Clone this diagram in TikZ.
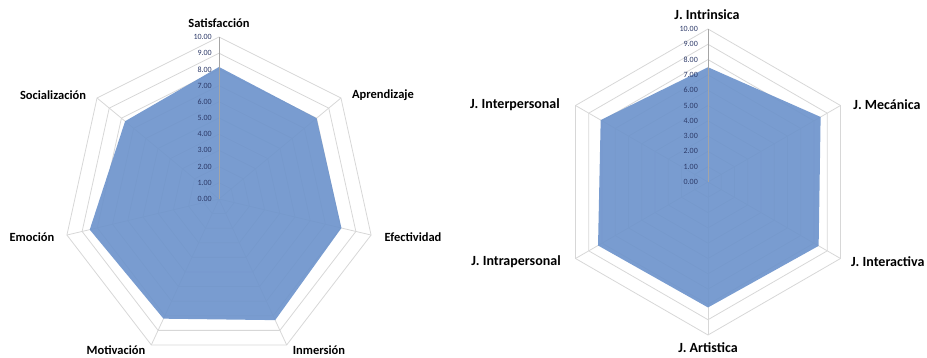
\documentclass[tikz,border=0pt]{standalone}
\usepackage{fontspec}
\setmainfont{Carlito}
\definecolor{gridgray}{RGB}{215,215,215}
\definecolor{axisgray}{RGB}{165,165,165}
\definecolor{radarblue}{RGB}{110,148,204}
\definecolor{ticktext}{RGB}{45,58,105}
\begin{document}
\begin{tikzpicture}[x=1pt,y=1pt,
  ring/.style={draw=gridgray, line width=0.8pt},
  spoke/.style={draw=gridgray, line width=0.8pt},
  valaxis/.style={draw=axisgray, line width=0.6pt},
  datafill/.style={fill=radarblue, fill opacity=0.92},
  catleft/.style={font=\bfseries\fontsize{12.5}{12.5}\selectfont, inner sep=0pt},
  catright/.style={font=\bfseries\fontsize{14}{14}\selectfont, inner sep=0pt},
  ticklabel/.style={font=\fontsize{8}{8}\selectfont, text=ticktext, anchor=east, inner sep=0pt}]
\useasboundingbox (0,0) rectangle (927,-358);

% ---------- heptagonal chart ----------
\begin{scope}[shift={(219,-199)}, x=15.6pt, y=16.2pt]
  \coordinate (hc) at (0,0);
  \foreach \k in {0,...,6} \coordinate (hv\k) at ({90-\k*360/7}:10);
  \foreach \r in {1,...,10}
    \draw[ring] (90:\r) \foreach \k in {1,...,6} { -- ({90-\k*360/7}:\r) } -- cycle;
  \foreach \k in {0,...,6} \draw[spoke] (hc) -- (hv\k);
  \fill[datafill] (90:8.15) -- ({90-360/7}:8.0) -- ({90-2*360/7}:8.05)
    -- ({90-3*360/7}:8.3) -- ({90-4*360/7}:8.2) -- ({90-5*360/7}:8.5)
    -- ({90-6*360/7}:7.7) -- cycle;
  \draw[valaxis] (hc) -- (hv0);
  \foreach \r/\t in {0/0.00,1/1.00,2/2.00,3/3.00,4/4.00,5/5.00,6/6.00,7/7.00,8/8.00,9/9.00,10/10.00}
    \node[ticklabel] (ht\r) at ([xshift=-7pt]0,\r) {\t};
\end{scope}
\node[catleft] (satisf) at (219,-23) {Satisfacción};
\node[catleft] (aprend) at (383,-95) {Aprendizaje};
\node[catleft] (efect) at (413,-237) {Efectividad};
\node[catleft] (inmer) at (319,-350) {Inmersión};
\node[catleft] (motiv) at (116,-350) {Motivación};
\node[catleft] (emoc) at (32,-237) {Emoción};
\node[catleft] (social) at (53,-95) {Socialización};

% ---------- hexagonal chart ----------
\begin{scope}[shift={(708,-182)}, x=15.3pt, y=15.3pt]
  \coordinate (xc) at (0,0);
  \foreach \k in {0,...,5} \coordinate (xv\k) at ({90-\k*60}:10);
  \foreach \r in {1,...,10}
    \draw[ring] (90:\r) \foreach \k in {1,...,5} { -- ({90-\k*60}:\r) } -- cycle;
  \foreach \k in {0,...,5} \draw[spoke] (xc) -- (xv\k);
  \fill[datafill] (90:7.5) -- (30:8.5) -- (-30:8.35) -- (-90:8.2)
    -- (-150:8.3) -- (150:8.1) -- cycle;
  \draw[valaxis] (xc) -- (xv0);
  \foreach \r/\t in {0/0.00,1/1.00,2/2.00,3/3.00,4/4.00,5/5.00,6/6.00,7/7.00,8/8.00,9/9.00,10/10.00}
    \node[ticklabel] (xt\r) at ([xshift=-10pt]0,\r) {\t};
\end{scope}
\node[catright] (intrin) at (707,-15) {J. Intrinsica};
\node[catright] (mecan) at (887,-105) {J. Mecánica};
\node[catright, anchor=west] (interac) at (851,-262) {J. Interactiva};
\node[catright] (artist) at (708,-348) {J. Artistica};
\node[catright] (intrap) at (516,-262) {J. Intrapersonal};
\node[catright] (interp) at (515,-105) {J. Interpersonal};
\end{tikzpicture}
\end{document}
